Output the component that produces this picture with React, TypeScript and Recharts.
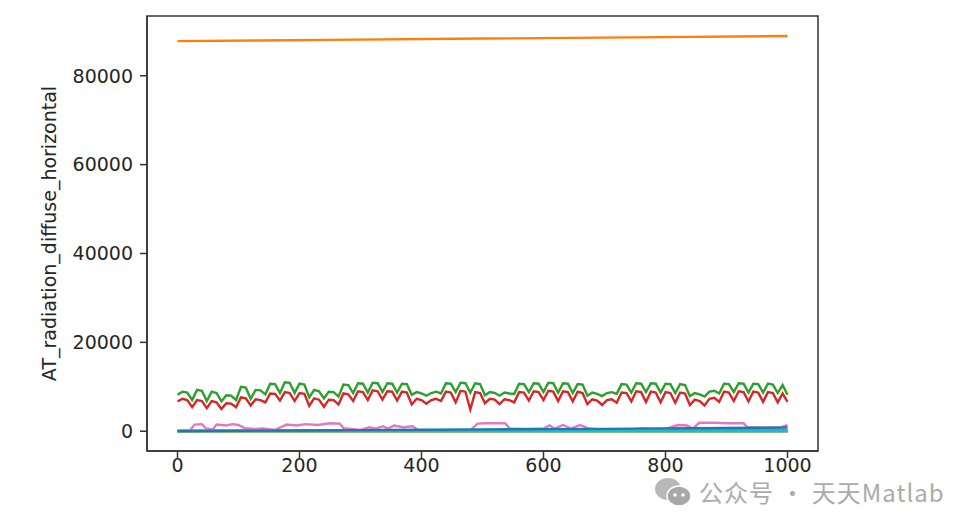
// line chart of the AT_radiation columns, matplotlib look (tab10 colours)
import { LineChart, Line, XAxis, YAxis, ReferenceArea } from "recharts";

const FONT = '"DejaVu Sans", sans-serif';

// green + red are sampled every 8 steps (3 samples per 24-step cycle)
const GREEN = [
  8200, 8900, 8700, 7000, 9300, 9100, 6800, 8900, 8600, 6700, 8100, 8000,
  7000, 10000, 9800, 7300, 9300, 9200, 8300, 10700, 10600, 8600, 11000, 10900,
  8600, 10700, 10500, 7600, 9300, 9000, 7400, 8900, 8800, 7800, 10500, 10400,
  8600, 10800, 10700, 8700, 10900, 10800, 8800, 10800, 10700, 8700, 10700, 10600,
  8200, 8800, 8500, 8000, 8600, 8900, 8500, 10800, 10700, 8800, 10900, 10800,
  8700, 10800, 10600, 8100, 8800, 8600, 8000, 8700, 8500, 8400, 10700, 10600,
  8800, 10800, 10700, 8800, 10900, 10800, 8700, 10800, 10700, 8600, 10600, 10500,
  8000, 8700, 8400, 7900, 8600, 8800, 8400, 10600, 10500, 8700, 10800, 10700,
  8800, 10800, 10700, 8700, 10700, 10600, 8600, 10600, 10400, 7900, 8600, 8300,
  7800, 8900, 9100, 8500, 10700, 10600, 8800, 10800, 10700, 8700, 10700, 10600,
  8700, 10700, 10500, 8600, 10400, 8200,
];
const RED = [
  6700, 7300, 7000, 5400, 7000, 6800, 5200, 6800, 6500, 5000, 6300, 6200,
  5400, 7600, 7400, 5800, 7200, 7000, 6500, 8500, 8400, 6900, 8800, 8600,
  6800, 8600, 8400, 5700, 7400, 7100, 5500, 7100, 7000, 6000, 8500, 8300,
  6800, 9000, 8800, 7000, 9200, 9000, 7100, 9000, 8900, 6900, 8900, 8700,
  6000, 7300, 7000, 6200, 7000, 7300, 6800, 8900, 8700, 6500, 9100, 8900,
  4900, 8800, 8600, 6300, 7300, 7100, 6100, 7200, 7000, 6500, 8800, 8700,
  6900, 9000, 8800, 7000, 9100, 8900, 6800, 9000, 8800, 6700, 8900, 8600,
  6100, 7200, 6900, 5900, 7000, 7200, 6400, 8700, 8600, 6700, 9000, 8800,
  6600, 8900, 8700, 6500, 8800, 8600, 6400, 8700, 8500, 5900, 7100, 6800,
  5800, 7300, 7500, 6600, 8900, 8700, 6800, 9000, 8800, 6700, 8900, 8700,
  6600, 8800, 8600, 6500, 8500, 6600,
];
const HOURS = GREEN.map((_, i) => i * 8);

const ORANGE_X = [0, 250, 500, 750, 1000];
const ORANGE = [87800, 88080, 88370, 88650, 88950];

const PINK_X = [
  0, 20, 28, 40, 47, 58, 64, 80, 90, 100, 110, 125, 140, 160, 179, 195, 210,
  230, 250, 266, 272, 300, 315, 325, 337, 345, 355, 370, 385, 395, 420, 450,
  480, 492, 505, 537, 545, 570, 600, 610, 618, 632, 645, 660, 675, 700, 740,
  760, 775, 800, 821, 835, 845, 855, 880, 900, 928, 934, 960, 990, 998, 1000,
];
const PINK = [
  0, 100, 1500, 1600, 600, 400, 1500, 1300, 1600, 1400, 700, 500, 600, 300,
  1500, 1300, 1600, 1400, 1800, 1700, 700, 300, 900, 600, 1100, 600, 1300,
  900, 1100, 200, 100, 100, 200, 1700, 1800, 1800, 600, 500, 600, 1300, 600,
  1400, 600, 1400, 600, 300, 300, 600, 500, 500, 1400, 1300, 600, 1900, 1900,
  1800, 1800, 900, 800, 900, 1300, 1000,
];

// series that stay close to zero
const FLAT_X = [0, 500, 1000];
const BLUE = [40, 50, 60];
const PURPLE = [90, 120, 150];
const BROWN = [30, 40, 50];
const GRAY = [10, 20, 20];
const OLIVE = [0, 10, 10];
const CYAN = [30, 40, 50];

const BLUE2_X = [0, 100, 200, 300, 400, 500, 600, 700, 800, 900, 1000];
const BLUE2 = [60, 120, 180, 250, 320, 420, 480, 540, 640, 740, 800];

const X_TICKS = [0, 200, 400, 600, 800, 1000];
const Y_TICKS = [0, 20000, 40000, 60000, 80000];

const pts = (xs: number[], ys: number[]) => xs.map((x, i) => ({ x, y: ys[i] }));

const series = [
  { name: "blue", color: "#1f77b4", data: pts(FLAT_X, BLUE) },
  { name: "orange", color: "#ff7f0e", data: pts(ORANGE_X, ORANGE) },
  { name: "green", color: "#2ca02c", data: pts(HOURS, GREEN) },
  { name: "red", color: "#d62728", data: pts(HOURS, RED) },
  { name: "purple", color: "#9467bd", data: pts(FLAT_X, PURPLE) },
  { name: "brown", color: "#8c564b", data: pts(FLAT_X, BROWN) },
  { name: "pink", color: "#e377c2", data: pts(PINK_X, PINK) },
  { name: "gray", color: "#7f7f7f", data: pts(FLAT_X, GRAY) },
  { name: "olive", color: "#bcbd22", data: pts(FLAT_X, OLIVE) },
  { name: "cyan", color: "#17becf", data: pts(FLAT_X, CYAN) },
  { name: "blue2", color: "#1f77b4", data: pts(BLUE2_X, BLUE2) },
];

const tickStyle = { fontSize: 19, fill: "#262626", fontFamily: FONT };

const YLabel = ({ viewBox }: any) => {
  const cx = viewBox.x + 40.5;
  const cy = viewBox.y + viewBox.height / 2;
  return (
    <text
      x={cx}
      y={cy}
      transform={`rotate(-90 ${cx} ${cy})`}
      textAnchor="middle"
      dominantBaseline="central"
      fontSize={19}
      fontFamily={FONT}
      fill="#262626"
    >
      AT_radiation_diffuse_horizontal
    </text>
  );
};

export default function App() {
  return (
    <div style={{ position: "relative", width: 959, height: 510 }}>
      <LineChart width={959} height={510} margin={{ top: 8, right: 149, bottom: 0, left: 0 }}>
        <XAxis
          type="number"
          dataKey="x"
          domain={[-50, 1050]}
          ticks={X_TICKS}
          allowDataOverflow
          height={67}
          tickSize={7}
          tickMargin={1}
          tick={tickStyle}
          stroke="#333"
          axisLine={{ stroke: "#333", strokeWidth: 1.5 }}
          tickLine={{ stroke: "#333", strokeWidth: 1.5 }}
        />
        <YAxis
          type="number"
          dataKey="y"
          domain={[-4450, 93450]}
          ticks={Y_TICKS}
          allowDataOverflow
          width={139}
          tickSize={7}
          tickMargin={7}
          tick={tickStyle}
          stroke="#333"
          axisLine={{ stroke: "#333", strokeWidth: 1.5 }}
          tickLine={{ stroke: "#333", strokeWidth: 1.5 }}
          label={YLabel}
        />
        <ReferenceArea
          x1={-50}
          x2={1050}
          y1={-4450}
          y2={93450}
          fill="none"
          stroke="#333"
          strokeWidth={1.5}
          fillOpacity={0}
        />
        {series.map((s) => (
          <Line
            key={s.name}
            data={s.data}
            dataKey="y"
            type="linear"
            stroke={s.color}
            strokeWidth={2.4}
            dot={false}
            activeDot={false}
            isAnimationActive={false}
          />
        ))}
      </LineChart>
      <div
        style={{
          position: "absolute",
          left: 645,
          top: 467,
          display: "flex",
          alignItems: "center",
          gap: 6,
          color: "#ababab",
          fontFamily: '"Noto Sans CJK SC", sans-serif',
          fontSize: 24,
          letterSpacing: 1,
          whiteSpace: "nowrap",
        }}
      >
        <svg width={40} height={34} viewBox="0 0 40 34">
          <ellipse cx={15} cy={14} rx={13} ry={11} fill="#b8b8b8" />
          <ellipse cx={26} cy={21} rx={12} ry={10} fill="#a8a8a8" stroke="#fff" strokeWidth={1.5} />
          <circle cx={22} cy={20} r={1.8} fill="#fff" />
          <circle cx={30} cy={20} r={1.8} fill="#fff" />
        </svg>
        <span style={{ lineHeight: 1 }}>公众号 · 天天Matlab</span>
      </div>
    </div>
  );
}
